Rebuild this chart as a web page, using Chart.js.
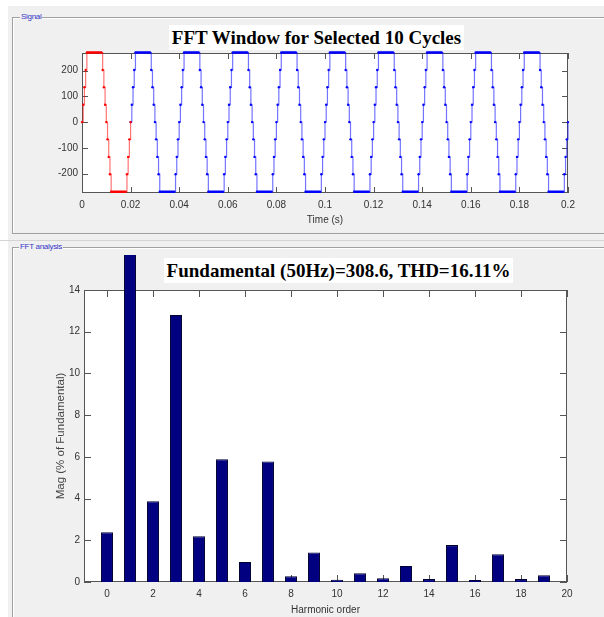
<!DOCTYPE html>
<html>
<head>
<meta charset="utf-8">
<title>FFT analysis</title>
<script src="https://cdn.jsdelivr.net/npm/chart.js@4.4.1/dist/chart.umd.min.js"></script>
<style>
  html, body { margin: 0; padding: 0; background: #fff; }
  body { width: 604px; height: 617px; position: relative; overflow: hidden; }
  .bg { position: absolute; left: 8px; top: 6px; right: 0; bottom: 0; background: #f0f0f0; }
  .frame { position: absolute; border: 1px solid #a0a0a0; box-shadow: inset 1px 1px 0 #fff; }
  .frame-label {
    position: absolute; background: #f0f0f0; color: #3535c8; padding: 0 1px;
    font: 8px 'Liberation Sans', sans-serif; line-height: 10px; letter-spacing: -0.3px;
  }
  .plot-title {
    position: absolute; background: #fff; color: #000; white-space: nowrap; text-align: center;
    font: bold 19px 'Liberation Serif', 'Times New Roman', serif; line-height: 25px; height: 25px;
  }
  canvas { position: absolute; }
</style>
</head>
<body>
<div class="bg"></div>
<div class="frame" style="left:12px;top:17px;width:620px;height:215px"></div>
<div class="frame" style="left:-5px;top:240px;width:620px;height:0;border-width:1px 0 0 0;border-color:#d4d4d4"></div>
<div class="frame" style="left:12px;top:247px;width:620px;height:400px"></div>
<div class="frame-label" style="left:20px;top:12px">Signal</div>
<div class="frame-label" style="left:19px;top:242px">FFT analysis</div>

<canvas id="signalChart" width="592" height="210" style="left:12px;top:20px"></canvas>
<canvas id="fftChart" width="592" height="362" style="left:12px;top:255px"></canvas>

<div class="plot-title" style="left:169px;top:25px;width:295px">FFT Window for Selected 10 Cycles</div>
<div class="plot-title" style="left:164px;top:258px;width:349px">Fundamental (50Hz)=308.6, THD=16.11%</div>

<script>
// signal: one 50 Hz cycle of the stepped inverter voltage, one level every 0.5 ms
const sampleStep = 0.0005
const cyclePeriod = 0.02
const cycleCount = 10
const cycleLevels = [
  0, 67, 135, 202,
  270, 270, 270, 270, 270, 270, 270, 270, 270, 270, 270, 270, 270,
  202, 135, 67, 0, -67, -135, -202,
  -270, -270, -270, -270, -270, -270, -270, -270, -270, -270, -270, -270, -270,
  -202, -135, -67
]
const timeTicks = [0, 0.02, 0.04, 0.06, 0.08, 0.1, 0.12, 0.14, 0.16, 0.18, 0.2]
const signalTicks = [-200, -100, 0, 100, 200]

// FFT: harmonic magnitudes in % of fundamental (order 1 is the fundamental itself)
const harmonicOrders = [0, 1, 2, 3, 4, 5, 6, 7, 8, 9, 10, 11, 12, 13, 14, 15, 16, 17, 18, 19]
const harmonicMag = [2.38, 100, 3.87, 12.8, 2.19, 5.88, 0.96, 5.78, 0.27, 1.41,
  0.11, 0.42, 0.18, 0.77, 0.14, 1.77, 0.1, 1.33, 0.14, 0.32]
const harmonicTicks = [0, 2, 4, 6, 8, 10, 12, 14, 16, 18, 20]
const magTicks = [0, 2, 4, 6, 8, 10, 12, 14]

// first cycle (red) is the selected one, the other nine are drawn blue
const selectedCycle = []
const otherCycles = []
for (let c = 0; c < cycleCount; c++) {
  cycleLevels.forEach((level, i) => {
    const pt = { x: +(c * cyclePeriod + i * sampleStep).toFixed(4), y: level }
    if (c === 0) selectedCycle.push(pt)
    else otherCycles.push(pt)
  })
}
selectedCycle.push({ x: cyclePeriod, y: cycleLevels[0] })
otherCycles.push({ x: cycleCount * cyclePeriod, y: cycleLevels[0] })

const tickFont = { family: "'Liberation Sans', Arial, sans-serif", size: 10 }
const axisColor = '#555'
const labelColor = '#333'

// white plot box with inward ticks on all four sides, like a MATLAB axes
const matlabAxes = {
  id: 'matlabAxes',
  beforeDatasetsDraw(chart, args, opts) {
    const { ctx, chartArea: a, scales: { x, y } } = chart
    const len = opts.tickLength
    ctx.save()
    ctx.fillStyle = '#fff'
    ctx.fillRect(a.left, a.top, a.right - a.left, a.bottom - a.top)
    ctx.strokeStyle = axisColor
    ctx.lineWidth = 1
    ctx.beginPath()
    x.ticks.forEach(t => {
      const px = Math.round(x.getPixelForValue(t.value)) + 0.5
      ctx.moveTo(px, a.bottom); ctx.lineTo(px, a.bottom - len)
      ctx.moveTo(px, a.top); ctx.lineTo(px, a.top + len)
    })
    y.ticks.forEach(t => {
      const py = Math.round(y.getPixelForValue(t.value)) + 0.5
      ctx.moveTo(a.left, py); ctx.lineTo(a.left + len, py)
      ctx.moveTo(a.right, py); ctx.lineTo(a.right - len, py)
    })
    ctx.stroke()
    ctx.strokeRect(Math.round(a.left) + 0.5, Math.round(a.top) + 0.5,
      Math.round(a.right - a.left) - 1, Math.round(a.bottom - a.top) - 1)
    ctx.restore()
  }
}

function axis(ticksList, extra) {
  return Object.assign({
    type: 'linear',
    grid: { display: false, drawTicks: false },
    border: { display: false },
    ticks: { font: tickFont, color: labelColor, padding: 4 },
    afterBuildTicks: s => { s.ticks = ticksList.map(v => ({ value: v })) }
  }, extra)
}

const signalLine = (points, line, dot) => ({
  data: points,
  borderColor: line,
  backgroundColor: dot,
  pointBackgroundColor: dot,
  pointBorderWidth: 0,
  pointRadius: 1.2,
  borderWidth: 1.2,
  stepped: 'before',
  clip: false
})

new Chart(document.getElementById('signalChart'), {
  type: 'line',
  data: {
    datasets: [
      signalLine(selectedCycle, 'rgba(255, 0, 0, 0.55)', '#ff0000'),
      signalLine(otherCycles, 'rgba(0, 0, 255, 0.55)', '#0000ff')
    ]
  },
  options: {
    responsive: false,
    animation: false,
    layout: { padding: { left: 0, right: 36, top: 33, bottom: 0 } },
    plugins: { legend: { display: false }, tooltip: { enabled: false }, matlabAxes: { tickLength: 6 } },
    scales: {
      x: axis(timeTicks, {
        min: 0, max: 0.2,
        ticks: { font: tickFont, color: labelColor, padding: 6, maxRotation: 0, callback: v => String(+v.toFixed(3)) },
        title: { display: true, text: 'Time (s)', font: tickFont, color: labelColor, padding: { top: 0, bottom: 4 } },
        afterFit: s => { s.height = 37 }
      }),
      y: axis(signalTicks, {
        min: -275, max: 268,
        afterFit: s => { s.width = 70 }
      })
    }
  },
  plugins: [matlabAxes]
})

new Chart(document.getElementById('fftChart'), {
  type: 'bar',
  data: {
    datasets: [{
      data: harmonicOrders.map((o, i) => ({ x: o, y: harmonicMag[i] })),
      backgroundColor: '#000080',
      borderColor: '#000030',
      borderWidth: 1,
      barPercentage: 0.52,
      categoryPercentage: 1,
      clip: false
    }]
  },
  options: {
    responsive: false,
    animation: false,
    layout: { padding: { left: 0, right: 37, top: 35, bottom: 0 } },
    plugins: { legend: { display: false }, tooltip: { enabled: false }, matlabAxes: { tickLength: 7 } },
    scales: {
      x: axis(harmonicTicks, {
        min: -1, max: 20, offset: false,
        ticks: { font: tickFont, color: labelColor, padding: 6, maxRotation: 0 },
        title: { display: true, text: 'Harmonic order', font: tickFont, color: labelColor, padding: { top: 0, bottom: 1 } },
        afterFit: s => { s.height = 35 }
      }),
      y: axis(magTicks, {
        min: 0, max: 14,
        title: {
          display: true, text: 'Mag (% of Fundamental)', color: '#444',
          font: { family: "'Liberation Sans', Arial, sans-serif", size: 11.5 },
          padding: { top: 42, bottom: 0 }
        },
        afterFit: s => { s.width = 72 }
      })
    }
  },
  plugins: [matlabAxes]
})
</script>
</body>
</html>
